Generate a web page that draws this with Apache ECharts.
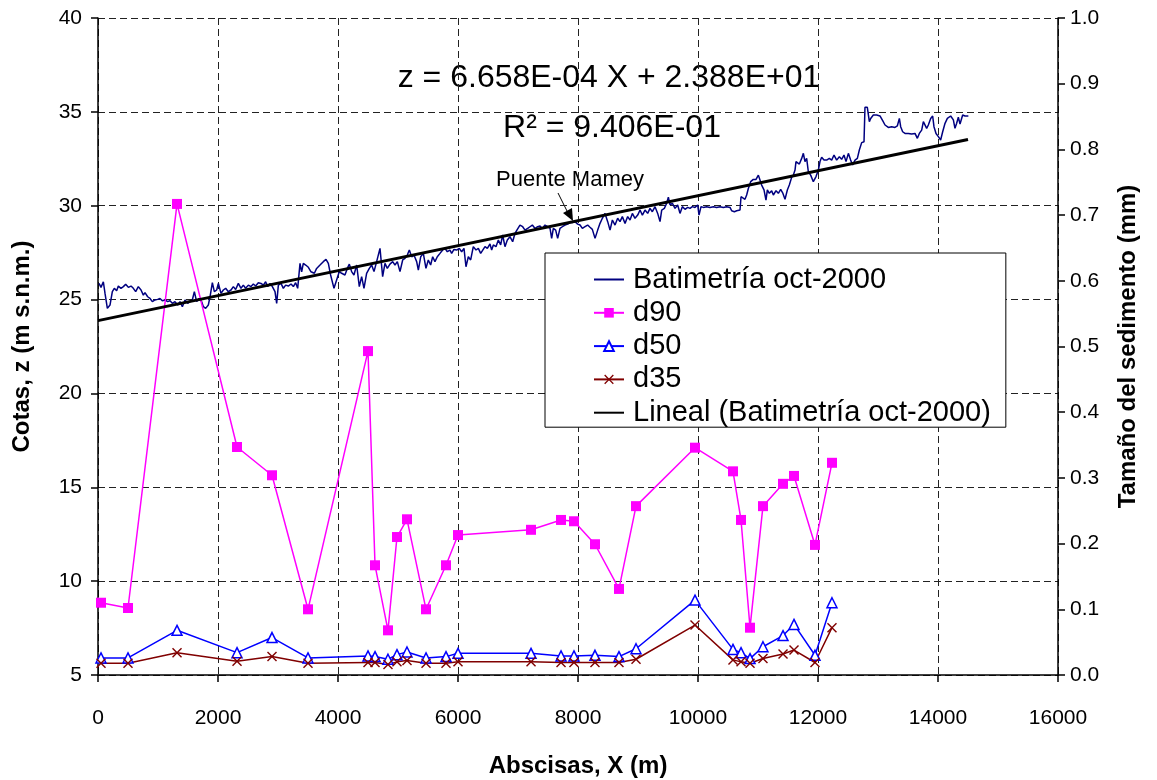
<!DOCTYPE html>
<html>
<head>
<meta charset="utf-8">
<title>Batimetría oct-2000</title>
<script src="https://cdn.jsdelivr.net/npm/echarts@6/dist/echarts.min.js"></script>
<style>
  html, body { margin: 0; padding: 0; background: #fff; }
  #chart { width: 1157px; height: 780px; }
</style>
</head>
<body>
<div id="chart"></div>
<script>
// bathymetry profile (abscisa m, cota m s.n.m.)
var bathyX = [17, 50, 89, 117, 156, 200, 239, 272, 311, 339, 383, 422, 461, 506, 550, 589, 628, 672, 717, 756,
  783, 828, 867, 906, 950, 994, 1033, 1072, 1117, 1161, 1200, 1239, 1283, 1328, 1367, 1406, 1450, 1494, 1533, 1572,
  1606, 1644, 1683, 1728, 1756, 1794, 1839, 1867, 1906, 1939, 1978, 2006, 2050, 2089, 2128, 2172, 2217, 2256, 2294, 2339,
  2383, 2422, 2461, 2506, 2550, 2589, 2628, 2672, 2717, 2756, 2794, 2828, 2867, 2906, 2950, 2978, 3006, 3050, 3089, 3128,
  3172, 3217, 3256, 3294, 3328, 3367, 3394, 3422, 3461, 3506, 3550, 3606,
  3644, 3700, 3755, 3800, 3839, 3877, 3933, 3977, 4022, 4061, 4116, 4155, 4189, 4227, 4266, 4311, 4355, 4394, 4433, 4477,
  4522, 4561, 4600, 4644, 4700, 4744, 4783, 4822, 4866, 4911, 4950, 4989, 5033, 5078, 5116, 5155, 5189, 5228, 5266, 5311,
  5339, 5378, 5422, 5466, 5505, 5544, 5578, 5616, 5655, 5700, 5744, 5783, 5822, 5866, 5894, 5933, 5977, 6022, 6061, 6100,
  6133, 6172, 6211, 6255, 6300, 6339, 6378, 6411, 6450, 6489, 6533, 6561, 6589, 6633, 6672, 6711, 6744, 6783, 6822, 6866,
  6911, 6950, 6989, 7033, 7078,
  7117, 7161, 7200, 7239, 7284, 7328, 7367, 7406, 7450, 7495, 7534, 7561, 7589, 7628, 7661, 7700, 7739, 7784, 7828, 7867,
  7906, 7950, 7995, 8034, 8073, 8117, 8161, 8200, 8239, 8284, 8328, 8367, 8406, 8450, 8495, 8534, 8573, 8617, 8661, 8700,
  8739, 8784, 8828, 8867, 8906, 8950, 8995, 9034, 9073, 9117, 9161, 9200, 9239, 9284, 9328, 9367, 9395, 9439, 9478, 9506,
  9534, 9573, 9617, 9661, 9700, 9739, 9784, 9828, 9867, 9906, 9950, 9995, 10017, 10050, 10089, 10145, 10200, 10256, 10311, 10367,
  10422, 10478, 10534, 10561, 10606, 10645,
  10700, 10717, 10744, 10783, 10811, 10839, 10878, 10922, 10967, 11006, 11033, 11061, 11100, 11133, 11156, 11189, 11228, 11256, 11300, 11339,
  11378, 11411, 11450, 11489, 11522, 11561, 11589, 11617, 11633, 11656, 11689, 11728, 11756, 11783, 11811, 11839, 11878, 11922, 11967, 12006,
  12033, 12061, 12100, 12144, 12189, 12228, 12267, 12311, 12356, 12394, 12433, 12467, 12506, 12544, 12578, 12617, 12656, 12689, 12728, 12767,
  12783, 12822, 12856, 12878, 12922, 12978, 13033, 13078, 13117, 13172, 13228, 13283, 13322, 13356, 13378, 13411, 13450, 13506, 13561, 13617,
  13656, 13689, 13728, 13756, 13783, 13811, 13839, 13878, 13911, 13933, 13967, 14006, 14044, 14078, 14117, 14156, 14189, 14211, 14256, 14283,
  14311, 14339, 14367, 14411, 14450, 14506];
var bathyZ = [25.86, 25.65, 25.95, 25.33, 24.53, 24.71, 25.42, 25.60, 25.47, 25.72, 25.60, 25.69, 25.81, 25.65, 25.72, 25.60, 25.42, 25.69, 25.51, 25.24,
  25.37, 25.15, 25.06, 24.89, 24.98, 25.01, 25.06, 24.94, 24.98, 24.89, 24.94, 24.80, 24.89, 24.71, 24.89, 24.62, 24.98, 24.80, 24.89, 24.98,
  25.42, 24.89, 25.06, 24.89, 24.62, 24.53, 24.71, 25.15, 25.90, 25.42, 25.51, 25.86, 25.33, 25.51, 25.60, 25.42, 25.51, 25.69, 25.54, 25.86,
  25.60, 25.77, 25.60, 25.77, 25.69, 25.83, 25.72, 25.90, 25.86, 25.77, 25.95, 25.69, 25.86, 25.69, 25.42, 24.80, 25.77, 25.86, 25.60, 25.77,
  25.72, 25.83, 25.69, 25.90, 25.60, 26.93, 26.48, 26.93, 26.84, 26.72, 26.48, 26.40,
  26.66, 26.84, 27.02, 27.14, 26.93, 26.31, 25.60, 26.04, 26.49, 26.40, 26.31, 26.66, 26.89, 26.49, 26.31, 26.84, 25.69, 26.22, 25.60, 26.40,
  26.66, 26.84, 26.49, 27.02, 27.73, 26.22, 26.93, 26.66, 26.89, 27.02, 26.84, 27.02, 26.49, 27.11, 27.20, 27.37, 27.64, 27.28, 27.37, 27.02,
  26.57, 27.28, 27.46, 26.66, 27.11, 26.84, 27.28, 27.02, 27.28, 27.46, 27.64, 27.73, 27.55, 27.64, 27.46, 27.67, 27.64, 27.73, 27.55, 27.73,
  26.75, 27.28, 27.11, 27.82, 27.64, 27.73, 27.46, 27.55, 27.82, 27.73, 27.96, 27.64, 27.91, 27.82, 28.17, 27.91, 28.44, 27.82, 28.17, 28.35,
  28.08, 28.53, 28.74, 28.97, 28.88,
  28.70, 28.79, 28.88, 28.97, 28.79, 28.88, 28.92, 28.79, 28.97, 28.88, 28.79, 28.26, 28.79, 28.70, 28.26, 28.79, 28.88, 28.97, 29.02, 29.10,
  29.10, 29.15, 29.02, 28.97, 28.79, 28.88, 28.97, 28.85, 28.74, 28.26, 28.70, 29.06, 29.33, 29.59, 29.15, 28.70, 29.24, 28.97, 29.33, 29.15,
  29.42, 29.06, 29.42, 29.24, 29.59, 29.33, 29.50, 29.77, 29.50, 29.77, 29.59, 29.86, 29.68, 29.95, 29.59, 29.15, 29.77, 29.86, 30.13, 30.45,
  30.04, 30.13, 29.86, 30.04, 29.59, 29.95, 29.81, 29.91, 29.86, 29.95, 29.91, 30.04, 29.50, 29.95, 29.91, 29.95, 29.91, 29.95, 29.91, 29.95,
  29.91, 29.95, 29.91, 29.73, 29.68, 29.73,
  29.77, 30.48, 30.45, 30.34, 30.57, 30.92, 31.28, 31.40, 31.40, 31.63, 31.63, 31.10, 30.84, 30.30, 30.84, 30.66, 30.80, 30.57, 30.80, 30.66,
  30.87, 30.69, 30.34, 30.84, 31.10, 31.51, 31.63, 31.90, 32.35, 32.43, 32.22, 32.52, 32.79, 32.35, 32.52, 31.81, 31.63, 31.28, 31.55, 31.90,
  32.35, 32.58, 32.43, 32.43, 32.52, 32.43, 32.70, 32.43, 32.61, 32.47, 32.70, 32.35, 32.79, 32.43, 32.17, 32.43, 32.52, 32.97, 33.36, 33.41,
  35.24, 35.24, 34.48, 34.65, 34.83, 34.83, 34.78, 34.53, 34.30, 34.17, 34.21, 34.17, 34.25, 34.65, 34.21, 33.94, 33.85, 33.85, 33.82, 33.85,
  33.59, 33.85, 34.03, 34.48, 34.39, 34.12, 34.30, 34.65, 34.78, 34.21, 33.85, 33.68, 33.50, 33.94, 34.39, 34.65, 34.57, 34.78, 34.57, 34.12,
  34.39, 34.71, 34.35, 34.83, 34.78, 34.78];

// linear trend z = 6.658E-04 X + 2.388E+01, end points
var trendX = [0, 14500];
var trendZ = [23.88, 33.53];

// sediment samples (abscisa m, tamaño mm)
var sampleX = [50, 500, 1317, 2317, 2900, 3500, 4500, 4617, 4833, 4983, 5150, 5467, 5800, 6000, 7217,
  7717, 7933, 8283, 8683, 8967, 9950, 10583, 10717, 10867, 11083, 11417, 11600, 11950, 12233];
var d90 = [0.110, 0.102, 0.717, 0.347, 0.304, 0.100, 0.493, 0.167, 0.068, 0.210, 0.237, 0.100, 0.167, 0.213, 0.221,
  0.236, 0.234, 0.199, 0.131, 0.257, 0.346, 0.310, 0.236, 0.072, 0.257, 0.291, 0.303, 0.198, 0.323];
var d50 = [0.026, 0.026, 0.068, 0.034, 0.057, 0.026, 0.029, 0.028, 0.024, 0.031, 0.035, 0.026, 0.028, 0.033, 0.033,
  0.029, 0.029, 0.030, 0.028, 0.040, 0.114, 0.039, 0.034, 0.025, 0.043, 0.060, 0.077, 0.030, 0.110];
var d35 = [0.018, 0.018, 0.034, 0.021, 0.028, 0.018, 0.019, 0.019, 0.016, 0.020, 0.022, 0.018, 0.018, 0.020, 0.020,
  0.019, 0.019, 0.019, 0.019, 0.024, 0.076, 0.023, 0.020, 0.018, 0.025, 0.032, 0.038, 0.019, 0.072];

var font = "'Liberation Sans', Arial, sans-serif";

function zip(xs, ys) {
  return xs.map(function (x, i) { return [x, ys[i]]; });
}

var gridLine = { show: true, lineStyle: { color: '#222', width: 1, type: [7, 4] } };
var axisLineBlack = { show: true, lineStyle: { color: '#000', width: 1.5 } };
var tickBlack = { show: true, length: 7, lineStyle: { color: '#000', width: 1.5 } };
var nameStyle = { fontSize: 24, fontWeight: 'bold', color: '#000', fontFamily: font };

var chart = echarts.init(document.getElementById('chart'));
chart.setOption({
  animation: false,
  backgroundColor: '#fff',
  textStyle: { fontFamily: font },
  grid: { left: 98, right: 99, top: 18, bottom: 105, outerBoundsMode: 'none' },
  legend: {
    orient: 'vertical',
    left: 545,
    top: 253,
    backgroundColor: '#fff',
    borderColor: '#000',
    borderWidth: 1,
    borderRadius: 0,
    padding: [12, 15, 0, 48],
    itemGap: 4.3,
    itemWidth: 30,
    itemHeight: 12,
    textStyle: { fontSize: 29, color: '#000', fontFamily: font, lineHeight: 29, padding: [0, 0, 0, 4] },
    data: [
      { name: 'Batimetría oct-2000', itemStyle: { opacity: 0 } },
      'd90', 'd50', 'd35',
      { name: 'Lineal (Batimetría oct-2000)', itemStyle: { opacity: 0 } }
    ]
  },
  xAxis: {
    type: 'value',
    min: 0,
    max: 16000,
    interval: 2000,
    name: 'Abscisas, X (m)',
    nameLocation: 'middle',
    nameGap: 79,
    nameTextStyle: nameStyle,
    axisLine: axisLineBlack,
    axisTick: tickBlack,
    axisLabel: {
      fontSize: 21, color: '#000', margin: 33, fontFamily: font,
      formatter: function (v) { return String(v); }
    },
    splitLine: gridLine
  },
  yAxis: [{
    type: 'value',
    min: 5,
    max: 40,
    interval: 5,
    name: 'Cotas, z (m s.n.m.)',
    nameLocation: 'middle',
    nameRotate: 90,
    nameGap: 64,
    nameTextStyle: nameStyle,
    axisLine: axisLineBlack,
    axisTick: tickBlack,
    axisLabel: { fontSize: 21, color: '#000', margin: 16, fontFamily: font },
    splitLine: gridLine
  }, {
    type: 'value',
    position: 'right',
    min: 0,
    max: 1,
    interval: 0.1,
    name: 'Tamaño del sedimento (mm)',
    nameLocation: 'middle',
    nameRotate: 90,
    nameGap: 58,
    nameTextStyle: nameStyle,
    axisLine: axisLineBlack,
    axisTick: tickBlack,
    axisLabel: {
      fontSize: 21, color: '#000', margin: 12, fontFamily: font,
      formatter: function (v) { return v.toFixed(1); }
    },
    splitLine: { show: false }
  }],
  graphic: [
    {
      type: 'text', x: 609, y: 78,
      style: { text: 'z = 6.658E-04 X + 2.388E+01', font: '32px ' + font, fill: '#000', align: 'center', verticalAlign: 'middle' }
    },
    {
      type: 'text', x: 612, y: 128,
      style: { text: 'R² = 9.406E-01', font: '32px ' + font, fill: '#000', align: 'center', verticalAlign: 'middle' }
    },
    {
      type: 'text', x: 570, y: 180,
      style: { text: 'Puente Mamey', font: '22px ' + font, fill: '#000', align: 'center', verticalAlign: 'middle' }
    },
    {
      type: 'line',
      shape: { x1: 558, y1: 193, x2: 568, y2: 213 },
      style: { stroke: '#000', lineWidth: 1 }
    },
    {
      type: 'polygon',
      shape: { points: [[573, 221], [572, 208], [563, 213]] },
      style: { fill: '#000' }
    }
  ],
  series: [
    {
      name: 'Batimetría oct-2000',
      type: 'line',
      yAxisIndex: 0,
      symbol: 'none',
      lineStyle: { color: '#000080', width: 1.5 },
      itemStyle: { color: '#000080' },
      data: zip(bathyX, bathyZ)
    },
    {
      name: 'd90',
      type: 'line',
      yAxisIndex: 1,
      symbol: 'rect',
      symbolSize: 10,
      lineStyle: { color: '#FF00FF', width: 1.5 },
      itemStyle: { color: '#FF00FF' },
      data: zip(sampleX, d90)
    },
    {
      name: 'd50',
      type: 'line',
      yAxisIndex: 1,
      symbol: 'triangle',
      symbolSize: 10,
      lineStyle: { color: '#0000FF', width: 1.5 },
      itemStyle: { color: '#fff', borderColor: '#0000FF', borderWidth: 1.5 },
      data: zip(sampleX, d50)
    },
    {
      name: 'd35',
      type: 'line',
      yAxisIndex: 1,
      symbol: 'path://M0,1L1,0L5,4L9,0L10,1L6,5L10,9L9,10L5,6L1,10L0,9L4,5Z',
      symbolSize: 10,
      lineStyle: { color: '#800000', width: 1.5 },
      itemStyle: { color: '#800000' },
      data: zip(sampleX, d35)
    },
    {
      name: 'Lineal (Batimetría oct-2000)',
      type: 'line',
      yAxisIndex: 0,
      symbol: 'none',
      lineStyle: { color: '#000', width: 3 },
      itemStyle: { color: '#000' },
      data: zip(trendX, trendZ)
    }
  ]
});
</script>
</body>
</html>
